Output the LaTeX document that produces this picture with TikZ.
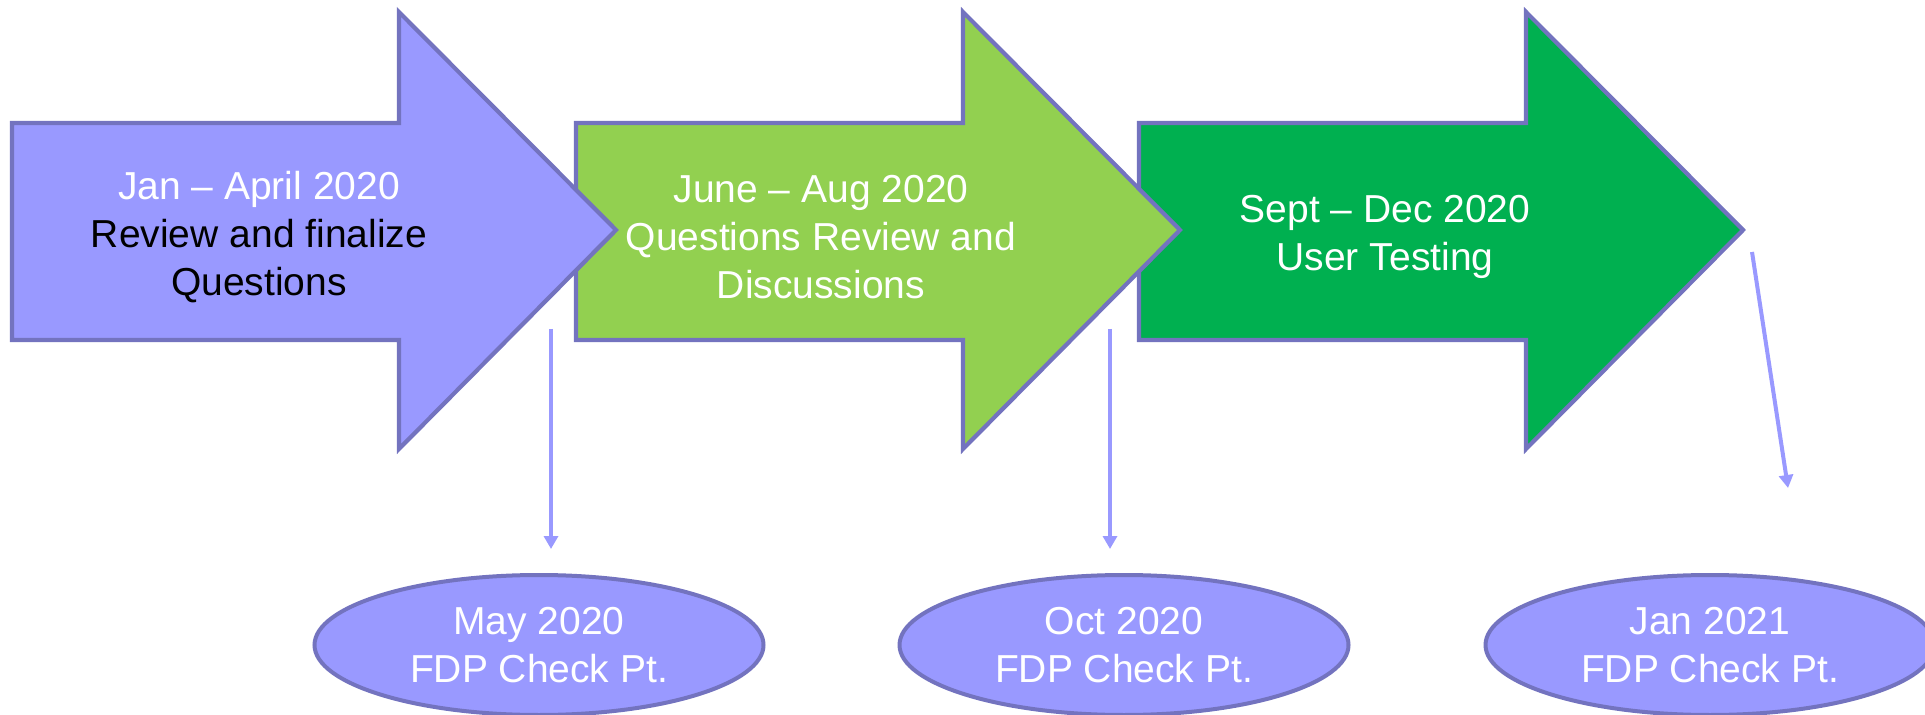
\documentclass[tikz,border=0pt]{standalone}
\usepackage{fontspec}
\setmainfont{Liberation Sans}
\usepackage{tikz}
\usetikzlibrary{shapes.geometric,arrows.meta}
\definecolor{lavender}{HTML}{9999FF}
\definecolor{leaf}{HTML}{92D050}
\definecolor{grass}{HTML}{00B050}
\definecolor{rim}{RGB}{115,115,191}
\tikzset{
  stage/.style={draw=rim, line width=2.1pt, line join=miter},
  label/.style={align=center, text=white, font=\fontsize{19.5pt}{24pt}\selectfont},
  checkpt/.style={ellipse, draw=rim, line width=2pt, fill=lavender, minimum width=224.5pt, minimum height=70pt, inner sep=0pt},
  link/.style={draw=lavender, line width=2pt, -{Triangle[length=6.5pt,width=7pt]}}
}
\begin{document}
\begin{tikzpicture}[x=0.5pt, y=-0.5pt]
\useasboundingbox (0,0) rectangle (1925,715);
\draw [stage, fill=grass] (1139,123) -- (1526,123) -- (1526,12) -- (1743,230) -- (1526,449) -- (1526,340) -- (1139,340) -- cycle;
\draw [stage, fill=leaf] (576,123) -- (963,123) -- (963,12) -- (1180,230) -- (963,449) -- (963,340) -- (576,340) -- cycle;
\draw [stage, fill=lavender] (12,123) -- (399,123) -- (399,12) -- (616,230) -- (399,449) -- (399,340) -- (12,340) -- cycle;
\node [label] (review) at (259,237) {Jan -- April 2020\\ \textcolor{black}{Review and finalize}\\ \textcolor{black}{Questions}};
\node [label] (discuss) at (821,237) {June -- Aug 2020\\ Questions Review and\\ Discussions};
\node [label] (testing) at (1385,237) {Sept -- Dec 2020\\ User Testing};
\node [checkpt, label] (may) at (539,645) {May 2020\\ FDP Check Pt.};
\node [checkpt, label] (oct) at (1124,645) {Oct 2020\\ FDP Check Pt.};
\node [checkpt, label] (jan) at (1710,645) {Jan 2021\\ FDP Check Pt.};
\coordinate (fromA) at (551,329);
\coordinate (toA) at (551,549);
\coordinate (fromB) at (1110,329);
\coordinate (toB) at (1110,549);
\coordinate (fromC) at (1752,252);
\coordinate (toC) at (1788,488);
\draw [link] (fromA) -- (toA);
\draw [link] (fromB) -- (toB);
\draw [link] (fromC) -- (toC);
\end{tikzpicture}
\end{document}
